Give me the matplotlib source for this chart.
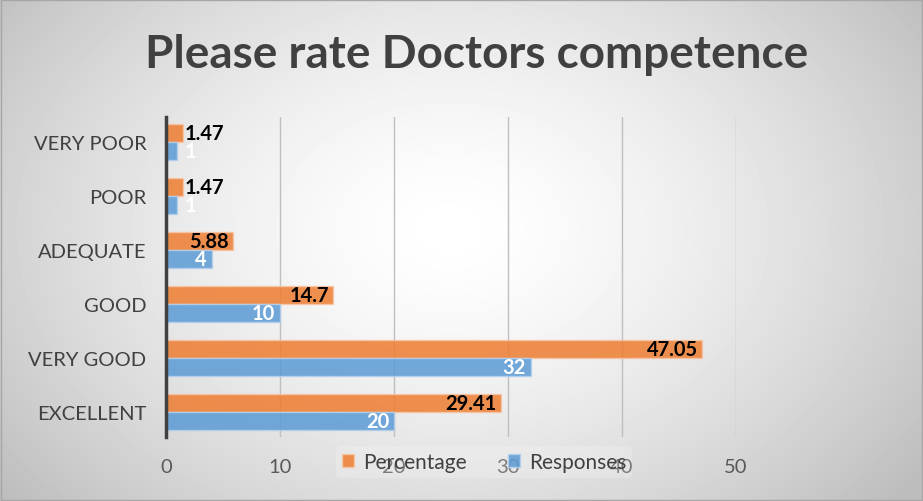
import numpy as np
import matplotlib.pyplot as plt
from matplotlib.patches import Rectangle

categories = ["EXCELLENT", "VERY GOOD", "GOOD", "ADEQUATE", "POOR", "VERY POOR"]
percentage = [29.41, 47.05, 14.7, 5.88, 1.47, 1.47]
responses = [20, 32, 10, 4, 1, 1]
pct_labels = ["29.41", "47.05", "14.7", "5.88", "1.47", "1.47"]
resp_labels = ["20", "32", "10", "4", "1", "1"]

orange = "#ED7D31"
blue = "#5B9BD5"
plt.rcParams['font.family'] = ['Lato', 'DejaVu Sans']

fig = plt.figure(figsize=(9.23, 5.02), dpi=100)

# radial grey background
bg = fig.add_axes([0, 0, 1, 1], zorder=-10)
yy, xx = np.mgrid[0:502, 0:923]
r = np.sqrt(((xx - 450) / 580.0) ** 2 + ((yy - 230) / 420.0) ** 2)
shade = 1.0 - 0.26 * np.clip(r, 0, 1) ** 1.5
bg.imshow(shade, cmap="gray", vmin=0, vmax=1, aspect="auto", interpolation="bilinear")
bg.add_patch(Rectangle((0.5, 0.5), 921, 500, fill=False, edgecolor="#A6A6A6", lw=1))
bg.set_axis_off()

ax = fig.add_axes([0.1798, 0.1275, 0.6174, 0.6375])
ax.patch.set_alpha(0)

y = np.arange(len(categories))
h = 0.333
ax.barh(y + h / 2, percentage, height=h, color=orange, alpha=0.85,
        edgecolor="#F8C6A6", lw=1, label="Percentage", zorder=3)
ax.barh(y - h / 2, responses, height=h, color=blue, alpha=0.85,
        edgecolor="#B4D0EC", lw=1, label="Responses", zorder=3)

lab_size = 14.5
for i in range(len(categories)):
    v = percentage[i]
    if v < 3:
        ax.text(v + 0.15, y[i] + h / 2, pct_labels[i], ha="left", va="center",
                fontsize=lab_size, fontweight="bold", color="black", zorder=5)
    else:
        ax.text(v - 0.4, y[i] + h / 2, pct_labels[i], ha="right", va="center",
                fontsize=lab_size, fontweight="bold", color="black", zorder=5)
    v = responses[i]
    if v < 3:
        ax.text(v + 0.6, y[i] - h / 2, resp_labels[i], ha="left", va="center",
                fontsize=lab_size, fontweight="bold", color="white", zorder=5)
    else:
        ax.text(v - 0.4, y[i] - h / 2, resp_labels[i], ha="right", va="center",
                fontsize=lab_size, fontweight="bold", color="white", zorder=5)

ax.set_xlim(0, 50)
ax.set_ylim(-0.47, 5.47)
ax.set_xticks([0, 10, 20, 30, 40, 50])
ax.set_yticks(y)
ax.set_yticklabels(categories)
ax.tick_params(axis="y", length=0, pad=14, labelsize=14.5, labelcolor="#404040")
ax.tick_params(axis="x", length=0, pad=15, labelsize=14.5, labelcolor="#595959")
ax.grid(axis="x", color="#BFBFBF", lw=1, zorder=0)
for s in ["top", "right", "bottom"]:
    ax.spines[s].set_visible(False)
ax.spines["left"].set_color("#404040")
ax.spines["left"].set_linewidth(2.5)
ax.spines["left"].set_zorder(4)

leg = ax.legend(loc="center", bbox_to_anchor=(484 / 923, 1 - 463 / 502),
                bbox_transform=fig.transFigure, ncol=2, frameon=True,
                fontsize=15, handlelength=0.6, handleheight=0.6,
                handletextpad=0.4, columnspacing=2.0, borderpad=0.3)
leg.get_frame().set_facecolor("white")
leg.get_frame().set_alpha(0.2)
leg.get_frame().set_edgecolor("none")
for t in leg.get_texts():
    t.set_color("#404040")

fig.text(477 / 923, 1 - 55 / 502, "Please rate Doctors competence", ha="center",
         va="center", fontsize=33, fontweight="bold", color="#404040")

fig.savefig("out.png", dpi=100)
